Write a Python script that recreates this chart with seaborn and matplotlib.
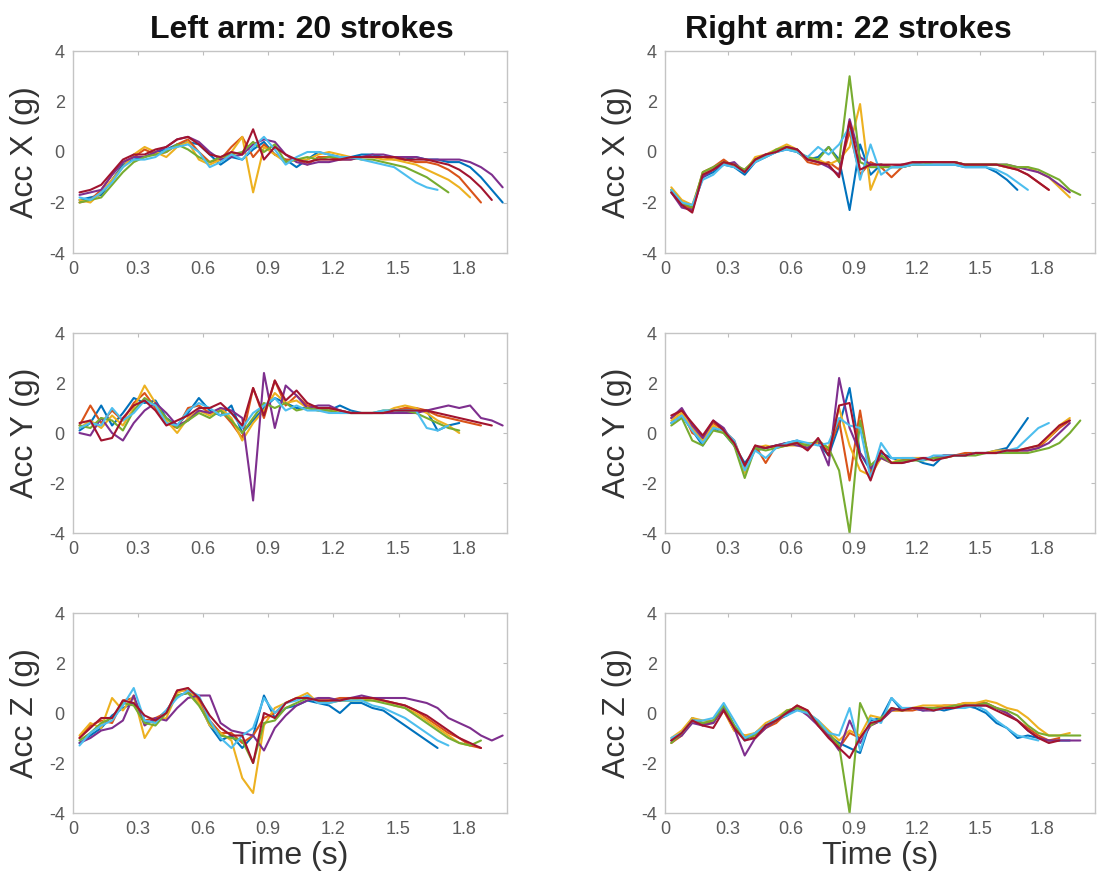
import numpy as np
import pandas as pd
import matplotlib
matplotlib.use("Agg")
import matplotlib.pyplot as plt
import seaborn as sns

# ---------------- data ----------------
# common sampling grid (s): 0.03, 0.08, ... 1.98 ; each stroke uses the first len(values) points
t_start = 0.03
t_step = 0.05
n_grid = 40

stroke_colors = ["#0072BD", "#D95319", "#EDB120", "#7E2F8E", "#77AC30", "#4DBEEE", "#A2142F"]

left_x = [
    [-1.9,-1.8,-1.7,-1.1,-0.5,-0.3,-0.2,0.0,0.1,0.3,0.4,0.3,-0.1,-0.5,-0.2,-0.3,0.1,0.4,-0.1,-0.3,-0.6,-0.3,0.0,-0.1,-0.2,-0.2,-0.1,-0.1,-0.2,-0.2,-0.3,-0.2,-0.3,-0.3,-0.4,-0.4,-0.6,-1.0,-1.5,-2.0],
    [-2.0,-1.9,-1.5,-0.9,-0.4,-0.2,0.1,-0.1,0.0,0.3,0.5,0.0,-0.4,-0.3,0.2,0.6,-0.2,0.3,-0.1,-0.3,-0.3,-0.5,-0.2,-0.2,-0.3,-0.3,-0.2,-0.2,-0.2,-0.3,-0.3,-0.4,-0.4,-0.5,-0.7,-1.0,-1.5,-2.0],
    [-1.9,-2.0,-1.6,-1.1,-0.6,-0.1,0.2,0.0,-0.2,0.2,0.4,-0.3,-0.5,-0.3,0.0,0.6,-1.6,0.2,-0.1,-0.4,-0.3,-0.3,-0.1,0.0,-0.1,-0.2,-0.2,-0.2,-0.3,-0.3,-0.4,-0.5,-0.7,-0.9,-1.1,-1.4,-1.8],
    [-1.7,-1.6,-1.5,-0.9,-0.4,-0.2,-0.2,0.0,0.2,0.5,0.6,0.4,0.0,-0.3,-0.2,-0.1,0.3,0.5,0.4,-0.1,-0.4,-0.5,-0.4,-0.4,-0.3,-0.3,-0.2,-0.1,-0.1,-0.2,-0.2,-0.2,-0.3,-0.3,-0.3,-0.3,-0.4,-0.6,-0.9,-1.4],
    [-2.0,-1.9,-1.8,-1.3,-0.8,-0.4,-0.2,-0.1,0.0,0.3,0.1,-0.2,-0.4,-0.2,-0.1,0.0,0.4,0.0,0.3,-0.4,-0.3,-0.2,-0.3,-0.2,-0.2,-0.2,-0.3,-0.3,-0.4,-0.5,-0.6,-0.8,-1.0,-1.3,-1.6],
    [-1.8,-1.9,-1.6,-1.2,-0.6,-0.3,-0.3,-0.2,0.1,0.2,0.3,0.0,-0.6,-0.4,-0.1,-0.3,0.2,0.6,0.1,-0.5,-0.2,0.0,0.0,-0.1,-0.2,-0.2,-0.3,-0.4,-0.5,-0.6,-0.9,-1.2,-1.4,-1.5],
    [-1.6,-1.5,-1.3,-0.8,-0.3,-0.1,-0.1,0.1,0.2,0.5,0.6,0.3,-0.1,-0.2,0.0,-0.1,0.9,-0.3,0.2,-0.1,-0.3,-0.4,-0.3,-0.3,-0.3,-0.2,-0.2,-0.2,-0.2,-0.2,-0.3,-0.3,-0.3,-0.4,-0.5,-0.7,-1.0,-1.4,-1.9],
]

right_x = [
    [-1.6,-2.1,-2.2,-1.0,-0.8,-0.5,-0.6,-0.9,-0.4,-0.2,0.0,0.1,0.0,-0.3,-0.2,0.2,-0.3,-2.3,0.3,-0.9,-0.5,-0.6,-0.6,-0.5,-0.5,-0.5,-0.5,-0.5,-0.6,-0.6,-0.6,-0.8,-1.1,-1.5],
    [-1.5,-2.0,-2.3,-0.8,-0.6,-0.3,-0.6,-0.7,-0.3,-0.1,0.0,0.2,0.1,-0.4,-0.5,-0.4,-0.7,0.8,-0.9,-0.4,-0.6,-1.0,-0.6,-0.5,-0.4,-0.4,-0.4,-0.4,-0.5,-0.5,-0.5,-0.5,-0.6,-0.7,-0.9,-1.2,-1.5],
    [-1.4,-1.9,-2.1,-0.9,-0.7,-0.4,-0.5,-0.8,-0.2,-0.1,0.1,0.3,0.1,-0.3,-0.3,-0.5,-0.3,0.2,1.9,-1.5,-0.5,-0.6,-0.5,-0.5,-0.4,-0.4,-0.4,-0.4,-0.5,-0.5,-0.5,-0.5,-0.6,-0.6,-0.6,-0.8,-1.0,-1.4,-1.8],
    [-1.6,-2.2,-2.3,-1.0,-0.7,-0.5,-0.4,-0.8,-0.3,-0.1,0.0,0.2,0.1,-0.3,-0.4,-0.6,-0.9,1.3,-0.2,-0.5,-0.5,-0.6,-0.5,-0.5,-0.4,-0.4,-0.4,-0.4,-0.5,-0.5,-0.5,-0.5,-0.5,-0.6,-0.7,-0.8,-1.0,-1.3,-1.6],
    [-1.5,-2.0,-2.2,-0.8,-0.6,-0.4,-0.5,-0.7,-0.3,-0.2,0.1,0.2,0.0,-0.2,-0.3,0.2,-0.4,3.0,-0.4,-0.6,-0.6,-0.6,-0.6,-0.5,-0.5,-0.4,-0.4,-0.4,-0.5,-0.5,-0.5,-0.5,-0.5,-0.6,-0.6,-0.7,-0.9,-1.1,-1.5,-1.7],
    [-1.5,-2.0,-2.1,-1.1,-0.9,-0.5,-0.6,-0.8,-0.4,-0.2,0.0,0.1,0.0,-0.2,0.2,-0.1,0.3,1.0,-1.1,0.3,-0.9,-0.6,-0.6,-0.5,-0.5,-0.5,-0.5,-0.5,-0.6,-0.6,-0.6,-0.7,-0.9,-1.2,-1.5],
    [-1.6,-2.1,-2.4,-0.9,-0.7,-0.4,-0.5,-0.8,-0.3,-0.1,0.0,0.2,0.1,-0.3,-0.4,-0.5,-1.0,1.2,-0.7,-0.5,-0.5,-0.5,-0.5,-0.4,-0.4,-0.4,-0.4,-0.4,-0.5,-0.5,-0.5,-0.5,-0.6,-0.7,-0.9,-1.2,-1.5],
]

left_y = [
    [0.1,0.4,1.1,0.3,0.8,1.4,1.2,1.3,0.6,0.3,0.8,1.4,0.9,0.7,1.1,0.0,0.5,1.0,1.4,1.2,1.0,1.0,1.0,0.9,1.1,0.9,0.8,0.8,0.8,0.8,0.9,0.9,0.9,0.1,0.3,0.4],
    [0.3,1.1,0.4,0.9,0.5,1.2,1.6,1.0,0.4,0.2,1.0,1.1,0.8,0.9,0.4,-0.2,1.8,0.6,2.1,1.1,1.5,1.1,1.0,1.0,0.9,0.8,0.8,0.8,0.8,0.9,1.0,1.0,0.9,0.7,0.6,0.5,0.4,0.3],
    [0.2,0.5,0.2,0.7,0.3,1.0,1.9,1.2,0.5,0.0,0.6,0.9,0.7,1.0,0.6,-0.3,0.4,0.9,1.6,1.2,1.3,1.0,0.9,0.9,0.9,0.8,0.8,0.8,0.8,1.0,1.1,1.0,0.8,0.5,0.3,0.0],
    [0.0,-0.1,0.6,0.0,-0.3,0.4,0.9,1.2,0.8,0.3,0.5,0.9,0.8,1.0,0.9,0.6,-2.7,2.4,0.2,1.9,1.5,1.0,1.1,1.1,0.9,0.8,0.8,0.8,0.8,0.8,0.8,0.8,0.9,1.0,1.1,1.0,1.1,0.6,0.5,0.3],
    [0.3,0.2,0.6,0.5,0.1,0.9,1.4,1.1,0.6,0.2,0.5,0.8,0.6,0.9,0.5,0.0,0.6,1.2,1.0,1.2,0.9,1.0,0.9,0.9,0.8,0.8,0.8,0.8,0.9,0.9,0.9,0.8,0.6,0.4,0.2,0.1],
    [0.2,0.4,0.3,1.0,0.5,0.8,1.3,1.1,0.4,0.3,0.9,1.2,1.0,0.7,0.8,0.2,0.8,1.1,1.4,0.9,1.1,0.9,0.9,0.8,0.8,0.8,0.8,0.8,0.9,0.9,0.9,0.9,0.2,0.1,0.3],
    [0.4,0.5,-0.3,-0.2,0.6,1.1,1.3,0.9,0.3,0.5,0.7,1.0,1.0,1.2,0.8,0.3,1.8,0.7,2.1,1.3,1.7,1.2,1.0,1.0,0.9,0.8,0.8,0.8,0.8,0.9,0.9,0.9,0.9,0.8,0.7,0.6,0.5,0.4,0.3],
]

right_y = [
    [0.4,0.7,0.1,-0.5,0.2,0.0,-0.5,-1.2,-0.7,-0.6,-0.5,-0.4,-0.3,-0.5,-0.4,-0.9,0.3,1.8,-0.8,-1.5,-0.8,-1.0,-1.1,-1.0,-1.2,-1.3,-0.9,-0.9,-0.9,-0.8,-0.8,-0.7,-0.6,0.0,0.6],
    [0.6,0.9,0.0,-0.2,0.4,0.1,-0.3,-1.4,-0.5,-1.2,-0.5,-0.4,-0.4,-0.6,-0.3,-0.7,0.5,-1.9,0.9,-1.6,-0.9,-1.2,-1.1,-1.0,-1.0,-1.0,-0.9,-0.9,-0.8,-0.8,-0.8,-0.8,-0.7,-0.7,-0.7,-0.6,-0.2,0.2,0.5],
    [0.5,0.8,0.2,-0.3,0.3,0.0,-0.4,-1.6,-0.6,-0.5,-0.6,-0.5,-0.5,-0.4,-0.4,-0.6,1.0,-0.5,-1.5,-1.7,-1.0,-1.2,-1.0,-1.0,-1.0,-1.0,-1.0,-0.9,-0.9,-0.8,-0.8,-0.7,-0.7,-0.7,-0.6,-0.5,-0.2,0.3,0.6],
    [0.6,1.0,0.3,-0.2,0.5,0.2,-0.5,-1.3,-0.6,-0.6,-0.5,-0.4,-0.5,-0.6,-0.3,-1.3,2.2,0.2,-0.8,-1.4,-1.0,-1.2,-1.2,-1.1,-1.0,-1.0,-0.9,-0.9,-0.9,-0.8,-0.8,-0.8,-0.7,-0.7,-0.7,-0.6,-0.4,0.0,0.4],
    [0.3,0.6,-0.3,-0.5,0.1,0.0,-0.5,-1.8,-0.6,-0.7,-0.6,-0.5,-0.4,-0.5,-0.3,-0.6,-1.5,-4.0,0.5,-1.3,-0.9,-1.2,-1.1,-1.1,-1.1,-1.0,-1.0,-0.9,-0.9,-0.9,-0.8,-0.8,-0.8,-0.8,-0.8,-0.7,-0.6,-0.4,0.0,0.5],
    [0.4,0.7,0.1,-0.4,0.2,0.1,-0.3,-1.5,-0.7,-1.0,-0.6,-0.4,-0.3,-0.4,-0.5,-0.4,0.6,0.3,0.2,-1.8,-0.4,-1.0,-1.0,-1.0,-1.1,-0.9,-0.9,-0.9,-0.9,-0.8,-0.8,-0.8,-0.7,-0.6,-0.2,0.2,0.4],
    [0.7,0.9,0.4,-0.1,0.5,0.1,-0.4,-1.3,-0.5,-0.6,-0.5,-0.5,-0.4,-0.7,-0.2,-0.9,1.1,1.2,-1.0,-1.9,-0.7,-1.2,-1.2,-1.1,-1.0,-1.1,-1.0,-0.9,-0.9,-0.8,-0.8,-0.8,-0.7,-0.7,-0.6,-0.5,-0.1,0.3,0.5],
]

left_z = [
    [-1.2,-0.9,-0.6,-0.1,0.2,0.4,-0.4,-0.3,0.1,0.7,0.8,0.4,-0.5,-1.1,-0.9,-1.4,-0.9,0.7,-0.2,0.2,0.3,0.5,0.4,0.3,0.0,0.4,0.4,0.2,0.1,-0.2,-0.5,-0.8,-1.1,-1.4],
    [-1.0,-0.5,-0.3,-0.4,0.5,0.6,-0.3,-0.2,0.0,0.9,0.9,0.5,-0.3,-0.8,-0.8,-1.2,-0.9,-0.2,0.0,0.4,0.6,0.6,0.5,0.5,0.6,0.6,0.6,0.6,0.5,0.4,0.3,0.1,-0.2,-0.5,-0.8,-1.0,-1.3,-1.4],
    [-0.9,-0.4,-0.6,0.6,0.1,0.7,-1.0,-0.3,-0.2,0.8,1.0,0.4,-0.5,-0.8,-1.1,-2.6,-3.2,-0.5,0.2,0.4,0.6,0.8,0.4,0.5,0.5,0.5,0.6,0.5,0.5,0.3,0.2,0.0,-0.3,-0.6,-0.9,-1.2,-1.3],
    [-1.2,-1.0,-0.7,-0.6,-0.3,0.7,-0.5,-0.2,-0.3,0.2,0.6,0.7,0.7,-0.4,-0.7,-0.8,-0.9,-1.5,-0.6,-0.1,0.3,0.5,0.6,0.6,0.5,0.6,0.7,0.6,0.6,0.6,0.6,0.5,0.4,0.2,-0.2,-0.4,-0.6,-0.9,-1.1,-0.9],
    [-1.1,-0.8,-0.4,-0.2,0.4,0.3,-0.4,-0.5,0.0,0.7,0.8,0.3,-0.4,-0.9,-1.0,-1.1,-2.0,-0.4,-0.3,0.2,0.4,0.6,0.5,0.4,0.5,0.5,0.5,0.5,0.4,0.3,0.2,-0.1,-0.4,-0.7,-1.0,-1.2,-1.3,-1.1],
    [-1.3,-0.8,-0.5,-0.3,0.3,1.0,-0.3,-0.4,0.1,0.6,0.9,0.7,-0.3,-1.0,-1.4,-0.9,-0.6,0.6,0.0,0.4,0.5,0.7,0.4,0.4,0.5,0.5,0.5,0.3,0.2,0.0,-0.2,-0.5,-0.8,-1.1,-1.3],
    [-1.0,-0.6,-0.2,-0.2,0.5,0.4,-0.1,-0.3,0.0,0.9,1.0,0.6,-0.1,-0.6,-0.9,-0.9,-2.0,0.0,-0.2,0.4,0.6,0.6,0.5,0.5,0.5,0.6,0.6,0.6,0.5,0.4,0.3,0.1,-0.1,-0.4,-0.7,-1.0,-1.2,-1.4],
]

right_z = [
    [-1.1,-0.8,-0.2,-0.4,-0.4,0.3,-0.5,-1.1,-0.8,-0.5,-0.3,-0.1,0.2,0.0,-0.4,-0.9,-1.2,-1.4,-1.6,-0.3,-0.2,0.6,0.1,0.2,0.1,0.2,0.1,0.2,0.3,0.2,0.0,-0.4,-0.6,-1.0,-0.9,-1.0,-1.1,-1.1,-1.1],
    [-1.2,-0.9,-0.3,-0.5,-0.3,0.1,-0.7,-0.9,-1.0,-0.6,-0.4,0.0,0.3,0.1,-0.5,-0.9,-1.4,-0.8,-1.0,-0.5,-0.3,0.1,0.1,0.1,0.2,0.2,0.3,0.3,0.4,0.4,0.4,0.2,0.0,-0.3,-0.6,-0.9,-1.1,-1.0],
    [-1.0,-0.7,-0.2,-0.3,-0.3,0.1,-0.7,-0.9,-0.8,-0.4,-0.2,0.1,0.2,0.0,-0.3,-0.7,-1.1,-0.7,-0.9,-0.1,-0.2,0.1,0.1,0.2,0.3,0.3,0.3,0.3,0.4,0.4,0.5,0.4,0.2,0.1,-0.2,-0.6,-0.9,-0.9,-0.8],
    [-1.1,-0.9,-0.4,-0.5,-0.4,0.2,-0.6,-1.7,-1.0,-0.6,-0.3,0.0,0.2,-0.1,-0.5,-0.9,-1.5,-0.3,-1.2,-0.5,-0.3,0.1,0.2,0.2,0.1,0.1,0.2,0.2,0.3,0.3,0.3,0.2,0.0,-0.3,-0.7,-1.0,-1.1,-1.1,-1.1,-1.1],
    [-1.2,-0.8,-0.3,-0.4,-0.3,0.3,-0.5,-1.0,-0.9,-0.5,-0.3,0.1,0.2,0.0,-0.4,-0.8,-1.3,-4.0,0.4,-0.5,-0.2,0.2,0.1,0.2,0.2,0.2,0.2,0.3,0.3,0.3,0.4,0.2,0.1,-0.1,-0.5,-0.8,-0.9,-0.9,-0.9,-0.9],
    [-1.0,-0.8,-0.3,-0.3,-0.2,0.4,-0.3,-1.0,-0.8,-0.5,-0.2,-0.1,0.1,0.0,-0.3,-0.8,-0.9,0.2,-1.5,-0.2,-0.4,0.6,0.2,0.2,0.2,0.1,0.2,0.2,0.2,0.3,0.1,-0.3,-0.6,-0.9,-1.0,-1.1],
    [-1.1,-0.8,-0.3,-0.5,-0.6,0.1,-0.6,-1.1,-1.0,-0.5,-0.3,0.0,0.3,0.1,-0.5,-1.0,-1.4,-1.8,-1.0,-0.4,-0.3,0.2,0.1,0.2,0.2,0.1,0.2,0.2,0.3,0.3,0.3,0.1,-0.1,-0.3,-0.7,-1.0,-1.2,-1.1],
]

titles = ["Left arm: 20 strokes", "Right arm: 22 strokes"]
ylabels = ["Acc X (g)", "Acc Y (g)", "Acc Z (g)"]
xticks = [0, 0.3, 0.6, 0.9, 1.2, 1.5, 1.8]
xtick_labels = ["0", "0.3", "0.6", "0.9", "1.2", "1.5", "1.8"]
yticks = [-4, -2, 0, 2, 4]

# ---------------- style ----------------
sns.set_theme(style="white")
plt.rcParams["font.family"] = ["Liberation Sans", "DejaVu Sans"]
plt.rcParams["axes.unicode_minus"] = False

grid = np.round(t_start + t_step * np.arange(n_grid), 3)

fig = plt.figure(figsize=(10.97, 8.89), dpi=100)

W, H = 1097.0, 889.0
col_px = [(73, 507, 2.0), (665, 1095, 2.05)]
row_px = [(51, 253), (333, 533), (613, 813)]

panels = [[left_x, right_x], [left_y, right_y], [left_z, right_z]]

for r, (top, bot) in enumerate(row_px):
    for c, (l, rr, xmax) in enumerate(col_px):
        ax = fig.add_axes([l / W, 1 - bot / H, (rr - l) / W, (bot - top) / H])
        rows = []
        for s, vals in enumerate(panels[r][c]):
            for tt, v in zip(grid[:len(vals)], vals):
                rows.append((s, tt, v))
        df = pd.DataFrame(rows, columns=["stroke", "t", "acc"])
        sns.lineplot(data=df, x="t", y="acc", hue="stroke", palette=stroke_colors,
                     estimator=None, sort=False, lw=1.5, legend=False, ax=ax)
        ax.set_xlim(0, xmax)
        ax.set_ylim(-4, 4)
        ax.set_xticks(xticks)
        ax.set_xticklabels(xtick_labels)
        ax.set_yticks(yticks)
        ax.tick_params(direction="in", length=3, width=0.8, colors="#bdbdbd",
                       labelcolor="#5a5a5a", labelsize=13, top=True, right=True,
                       pad=6)
        for sp in ax.spines.values():
            sp.set_color("#c4c4c4")
            sp.set_linewidth(1.0)
        ax.set_ylabel(ylabels[r], fontsize=23, color="#333333", labelpad=6)
        if r == 2:
            ax.set_xlabel("Time (s)", fontsize=23, color="#333333", labelpad=2)
        else:
            ax.set_xlabel("")

fig.text(302 / W, 1 - 30 / H, titles[0], ha="center", va="center",
         fontsize=23, fontweight="bold", color="#111111")
fig.text(848 / W, 1 - 30 / H, titles[1], ha="center", va="center",
         fontsize=23, fontweight="bold", color="#111111")

fig.savefig("out.png", dpi=100)
